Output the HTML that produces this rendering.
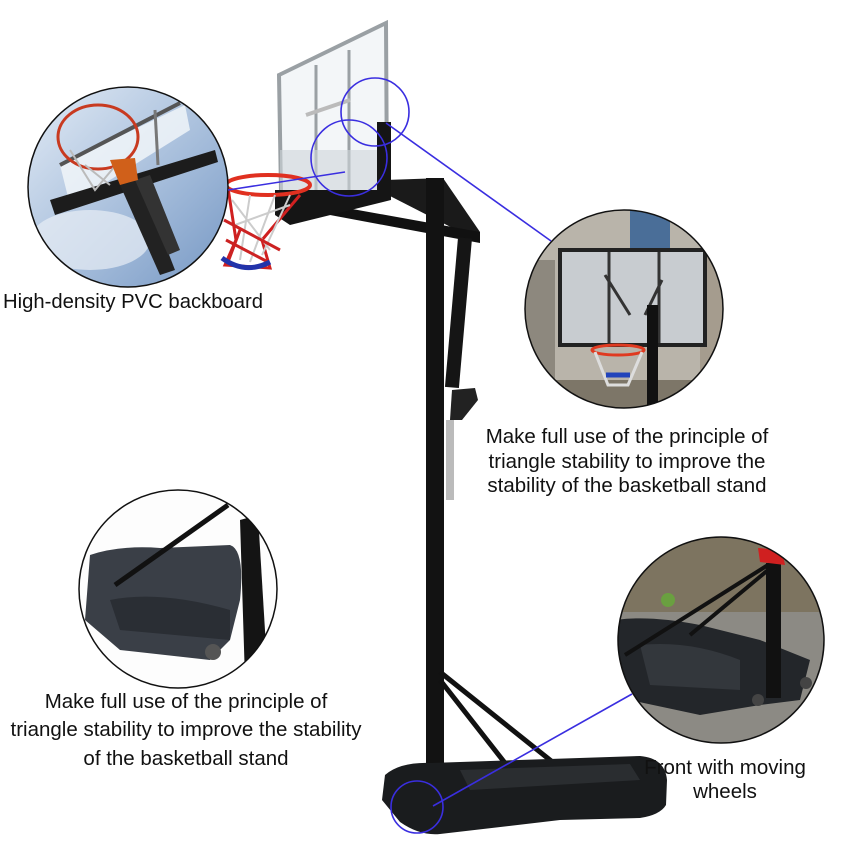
<!DOCTYPE html>
<html><head><meta charset="utf-8"><style>
html,body{margin:0;padding:0;background:#fff;width:859px;height:867px;overflow:hidden}
svg{display:block}
text{font-family:"Liberation Sans",Arial,sans-serif;fill:#111}
</style></head><body>
<svg width="859" height="867" viewBox="0 0 859 867">
<defs>
<clipPath id="c1"><circle cx="128" cy="187" r="100"/></clipPath>
<clipPath id="c2"><circle cx="624" cy="309" r="99"/></clipPath>
<clipPath id="c3"><circle cx="178" cy="589" r="99"/></clipPath>
<clipPath id="c4"><circle cx="721" cy="640" r="103"/></clipPath>
<linearGradient id="sky" x1="0" y1="0" x2="1" y2="1"><stop offset="0" stop-color="#e6eef7"/><stop offset="0.6" stop-color="#9fb8d8"/><stop offset="1" stop-color="#6f92c0"/></linearGradient>
</defs>

<g>
<polygon points="385,180 443,178 480,232 480,242 390,196" fill="#1a1a1a"/>
<polygon points="330,205 480,232 480,243 330,215" fill="#111"/>
<rect x="458" y="238" width="14" height="150" fill="#151515" transform="rotate(5 465 238)"/>
<path d="M452 390 L475 388 L478 400 L462 420 L450 420 Z" fill="#222"/>
<rect x="446" y="420" width="8" height="80" fill="#bbb"/>
<rect x="426" y="178" width="18" height="612" fill="#121212"/>
<line x1="440" y1="680" x2="505" y2="763" stroke="#111" stroke-width="5"/>
<line x1="440" y1="672" x2="600" y2="800" stroke="#111" stroke-width="5"/>
<path d="M385 775 Q400 762 430 763 L640 756 Q665 758 667 780 L666 805 Q660 815 640 818 L560 820 L440 834 Q420 836 400 822 L382 800 Z" fill="#1a1c1e"/>
<path d="M460 770 L630 764 L640 780 L470 790 Z" fill="#2a2d30"/>
<polygon points="279,75 386,23 387,192 281,192" fill="#f3f6f8" stroke="#9aa0a4" stroke-width="4"/>
<line x1="316" y1="65" x2="316" y2="190" stroke="#9aa0a4" stroke-width="3"/>
<line x1="349" y1="50" x2="349" y2="190" stroke="#9aa0a4" stroke-width="3"/>
<line x1="306" y1="115" x2="350" y2="100" stroke="#bbb" stroke-width="4"/>
<rect x="280" y="150" width="100" height="40" fill="#cfd6da" opacity="0.6"/>
<rect x="377" y="122" width="14" height="72" fill="#151515"/>
<polygon points="275,190 391,190 391,200 290,225 275,215" fill="#151515"/>
<ellipse cx="268" cy="185" rx="42" ry="10" fill="none" stroke="#e03020" stroke-width="4"/>
<path d="M228 188 L236 240 L225 265 L270 268 L262 240 L300 195" fill="none" stroke="#d02020" stroke-width="3"/>
<path d="M232 200 L270 250 M250 195 L240 260 M275 195 L250 262 M290 195 L262 255 M235 225 L290 205" stroke="#ccc" stroke-width="2" fill="none"/>
<path d="M224 220 L280 250 M226 240 L268 262 M240 230 L228 262" stroke="#cc2222" stroke-width="3" fill="none"/>
<path d="M222 258 Q245 275 270 262" stroke="#2233aa" stroke-width="5" fill="none"/>
</g>

<g clip-path="url(#c1)">
<rect x="20" y="80" width="220" height="220" fill="url(#sky)"/>
<ellipse cx="90" cy="240" rx="60" ry="30" fill="#e8eef5" opacity="0.7"/>
<polygon points="60,165 185,105 190,130 70,205" fill="#f4f7fa" opacity="0.8"/>
<polygon points="50,200 215,150 218,162 55,215" fill="#1c1c1c"/>
<line x1="60" y1="165" x2="180" y2="103" stroke="#555" stroke-width="4"/>
<line x1="155" y1="110" x2="158" y2="165" stroke="#777" stroke-width="3"/>
<polygon points="120,185 140,180 175,270 160,275" fill="#222"/>
<polygon points="135,180 150,175 180,250 168,255" fill="#333"/>
<ellipse cx="98" cy="137" rx="40" ry="32" fill="none" stroke="#c83a20" stroke-width="3"/>
<path d="M70 150 L95 190 L120 160 M85 165 L110 185" stroke="#bbb" stroke-width="2" fill="none"/>
<path d="M110 160 L135 158 L138 180 L120 185 Z" fill="#d0601a"/>
</g>
<circle cx="128" cy="187" r="100" fill="none" stroke="#111" stroke-width="1.5"/>

<g clip-path="url(#c2)">
<rect x="520" y="205" width="210" height="210" fill="#b9b4aa"/>
<rect x="630" y="210" width="40" height="40" fill="#4a6e98"/>
<rect x="525" y="260" width="30" height="150" fill="#8d887e"/>
<rect x="700" y="220" width="30" height="190" fill="#a59c8e"/>
<rect x="555" y="380" width="150" height="35" fill="#7d7668"/>
<rect x="560" y="250" width="145" height="95" fill="#c8ccd0" stroke="#222" stroke-width="4"/>
<line x1="609" y1="252" x2="609" y2="343" stroke="#333" stroke-width="3"/>
<line x1="659" y1="252" x2="659" y2="343" stroke="#333" stroke-width="3"/>
<line x1="605" y1="275" x2="630" y2="315" stroke="#333" stroke-width="3"/>
<line x1="662" y1="280" x2="645" y2="315" stroke="#333" stroke-width="3"/>
<rect x="647" y="305" width="11" height="110" fill="#111"/>
<ellipse cx="618" cy="350" rx="26" ry="5" fill="none" stroke="#e03a20" stroke-width="3"/>
<path d="M595 352 L608 385 L628 385 L642 352" fill="none" stroke="#ddd" stroke-width="3"/>
<path d="M606 375 L630 375" stroke="#2244bb" stroke-width="5"/>
</g>
<circle cx="624" cy="309" r="99" fill="none" stroke="#111" stroke-width="1.5"/>

<g clip-path="url(#c3)">
<rect x="75" y="485" width="210" height="210" fill="#fdfdfd"/>
<path d="M90 555 Q120 545 160 548 L230 545 Q245 550 240 600 L230 640 L210 660 L120 650 L85 620 Z" fill="#3a3f47"/>
<path d="M110 600 Q160 590 230 610 L230 640 L120 630 Z" fill="#2a2e34"/>
<line x1="115" y1="585" x2="228" y2="505" stroke="#111" stroke-width="5"/>
<polygon points="240,520 258,515 268,680 245,680" fill="#141414"/>
<circle cx="213" cy="652" r="8" fill="#555"/>
</g>
<circle cx="178" cy="589" r="99" fill="none" stroke="#111" stroke-width="1.5"/>

<g clip-path="url(#c4)">
<rect x="612" y="532" width="220" height="215" fill="#8c8a84"/>
<rect x="612" y="532" width="220" height="80" fill="#7d7460"/>
<circle cx="668" cy="600" r="7" fill="#6aa040"/>
<path d="M615 620 Q650 615 700 625 L760 640 L810 660 L800 700 L760 705 L700 715 L630 700 L615 680 Z" fill="#23262a"/>
<path d="M640 645 Q690 640 740 660 L740 690 L650 685 Z" fill="#33373c"/>
<line x1="625" y1="655" x2="768" y2="565" stroke="#111" stroke-width="4"/>
<line x1="690" y1="635" x2="768" y2="570" stroke="#111" stroke-width="4"/>
<rect x="766" y="563" width="15" height="135" fill="#111"/>
<polygon points="758,548 782,550 785,565 760,562" fill="#d02020"/>
<circle cx="758" cy="700" r="6" fill="#444"/>
<circle cx="806" cy="683" r="6" fill="#444"/>
</g>
<circle cx="721" cy="640" r="103" fill="none" stroke="#111" stroke-width="1.5"/>

<g fill="none" stroke="#3a2ee0" stroke-width="1.6">
<circle cx="375" cy="112" r="34"/>
<circle cx="349" cy="158" r="38"/>
<circle cx="417" cy="807" r="26"/>
<line x1="386" y1="123" x2="551" y2="241"/>
<line x1="345" y1="172" x2="228" y2="190"/>
<line x1="433" y1="806" x2="632" y2="694"/>
</g>

<text x="3" y="308" font-size="20" textLength="260" lengthAdjust="spacingAndGlyphs">High-density PVC backboard</text>
<g font-size="20.5" text-anchor="middle">
<text x="627" y="443">Make full use of the principle of</text>
<text x="627" y="468">triangle stability to improve the</text>
<text x="627" y="492">stability of the basketball stand</text>
<text x="186" y="708">Make full use of the principle of</text>
<text x="186" y="736">triangle stability to improve the stability</text>
<text x="186" y="765">of the basketball stand</text>
<text x="725" y="774">Front with moving</text>
<text x="725" y="798">wheels</text>
</g>
</svg>
</body></html>
